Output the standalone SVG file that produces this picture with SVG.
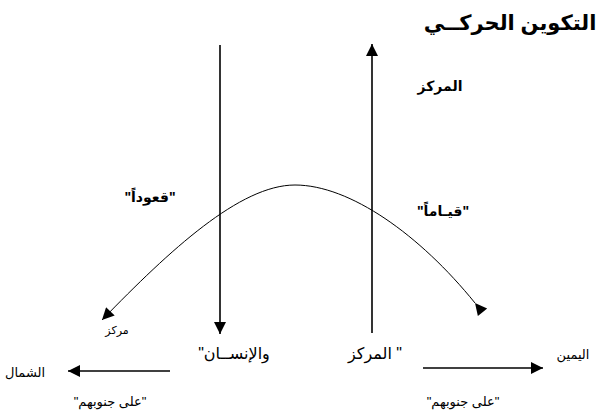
<svg xmlns="http://www.w3.org/2000/svg" width="600" height="416" viewBox="0 0 600 416">
<defs>
<marker id="ahb" viewBox="0 0 10 10" refX="10" refY="5" markerWidth="15" markerHeight="12" markerUnits="userSpaceOnUse" orient="auto"><path d="M0,0 L10,5 L0,10 z" fill="#000"/></marker>
</defs>
<style>
text{font-family:"Liberation Sans","DejaVu Sans",sans-serif;fill:#000;direction:rtl;text-anchor:middle}
.b{font-weight:bold}
.ln{stroke:#000;fill:none}
</style>
<rect width="600" height="416" fill="#fff"/>
<g id="connectors">
<line class="ln" x1="220" y1="45" x2="220" y2="334" stroke-width="1.6" marker-end="url(#ahb)"/>
<line class="ln" x1="372" y1="333" x2="372" y2="44" stroke-width="1.6" marker-end="url(#ahb)"/>
<path class="ln" d="M475,303 C420,235 350,185 295,185 C240,185 170,250 102,320" stroke-width="1" marker-start="url(#ahb)" marker-end="url(#ahb)"/>
<line class="ln" x1="170" y1="371" x2="68" y2="371" stroke-width="1.4" marker-end="url(#ahb)"/>
<line class="ln" x1="423" y1="368" x2="543" y2="368" stroke-width="1.4" marker-end="url(#ahb)"/>
</g>
<g id="title"><text class="b" x="510" y="30" font-size="21">التكوين الحركــي</text></g>
<g id="center-top"><text class="b" x="440" y="91" font-size="14">المركز</text></g>
<g id="sitting"><text class="b" x="150" y="202" font-size="14">"قعوداً"</text></g>
<g id="standing"><text class="b" x="443" y="216" font-size="14">"قيـاماً"</text></g>
<g id="markaz-small"><text x="117" y="334" font-size="11">مركز</text></g>
<g id="bottom-center"><text x="375" y="359" font-size="16">" المركز</text><text x="234" y="359" font-size="16">والإنســان"</text></g>
<g id="left"><text x="25" y="377" font-size="13">الشمال</text></g>
<g id="right"><text x="573" y="359" font-size="13">اليمين</text></g>
<g id="side-left"><text x="110" y="406" font-size="13">"على جنوبهم"</text></g>
<g id="side-right"><text x="463" y="406" font-size="13">"على جنوبهم"</text></g>
</svg>
